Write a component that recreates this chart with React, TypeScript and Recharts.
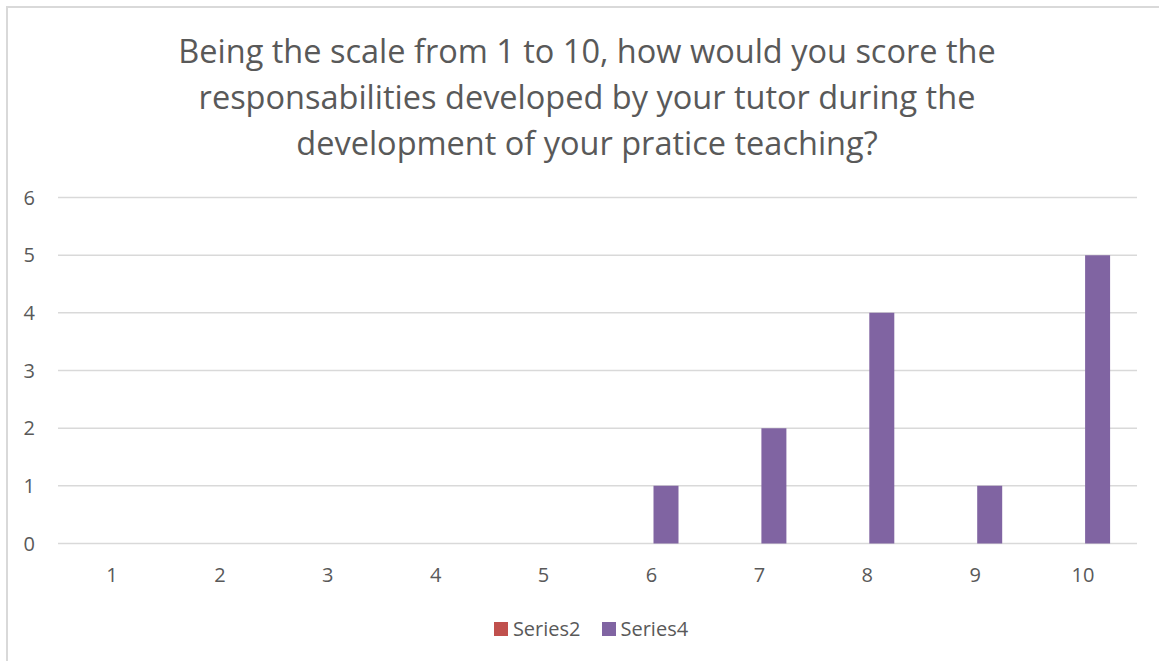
import React from 'react';
import { BarChart, Bar, XAxis, YAxis, CartesianGrid } from 'recharts';

const categories = ['1', '2', '3', '4', '5', '6', '7', '8', '9', '10'];
const series2Values = [0, 0, 0, 0, 0, 0, 0, 0, 0, 0];
const series4Values = [0, 0, 0, 0, 0, 1, 2, 4, 1, 5];
const yTicks = [0, 1, 2, 3, 4, 5, 6];
const titleLines = [
  'Being the scale from 1 to 10, how would you score the',
  'responsabilities developed by your tutor during the',
  'development of your pratice teaching?',
];
const seriesMeta = [
  { key: 'Series2', color: '#c0504d' },
  { key: 'Series4', color: '#8064a2' },
];

const data = categories.map((c, i) => ({
  name: c,
  Series2: series2Values[i],
  Series4: series4Values[i],
}));

const FONT = '"Open Sans", "Liberation Sans", sans-serif';
const TEXT = '#595959';
const GRID = '#d9d9d9';

export default function App() {
  return (
    <div style={{ position: 'absolute', left: 0, top: 0, width: 1159, height: 661, background: '#fff', overflow: 'hidden', fontFamily: FONT }}>
      <div style={{ position: 'absolute', left: 6, top: 6, width: 1200, height: 700, borderLeft: `2px solid ${GRID}`, borderTop: `2px solid ${GRID}` }} />
      <svg width={1159} height={170} style={{ position: 'absolute', left: 0, top: 0 }}>
        {titleLines.map((t, i) => (
          <text key={i} x={587} y={63 + i * 46} textAnchor="middle" fill={TEXT} fontSize={32.5} fontFamily={FONT}>
            {t}
          </text>
        ))}
      </svg>
      <div style={{ position: 'absolute', left: 0, top: 0 }}>
        <BarChart
          width={1159}
          height={661}
          data={data}
          margin={{ top: 197.5, right: 22, bottom: 87.5, left: 0 }}
          barSize={25}
          barGap={5}
        >
          <CartesianGrid vertical={false} stroke={GRID} strokeWidth={1.5} />
          <XAxis
            dataKey="name"
            height={30}
            axisLine={false}
            tickLine={false}
            tickSize={6}
            tickMargin={18}
            tick={{ fill: TEXT, fontSize: 20, fontFamily: FONT }}
            interval={0}
          />
          <YAxis
            width={58}
            domain={[0, 6]}
            ticks={yTicks}
            axisLine={false}
            tickLine={false}
            tickSize={6}
            tickMargin={17}
            tick={{ fill: TEXT, fontSize: 20, fontFamily: FONT }}
          />
          {seriesMeta.map((s) => (
            <Bar key={s.key} dataKey={s.key} fill={s.color} isAnimationActive={false} />
          ))}
        </BarChart>
      </div>
      <div style={{ position: 'absolute', left: 0, top: 615, width: 1182, display: 'flex', justifyContent: 'center', alignItems: 'center', gap: 21 }}>
        {seriesMeta.map((s) => (
          <div key={s.key} style={{ display: 'flex', alignItems: 'center' }}>
            <div style={{ width: 14, height: 14, background: s.color, marginRight: 5 }} />
            <span style={{ color: TEXT, fontSize: 20, lineHeight: '28px', fontFamily: FONT }}>{s.key}</span>
          </div>
        ))}
      </div>
    </div>
  );
}
